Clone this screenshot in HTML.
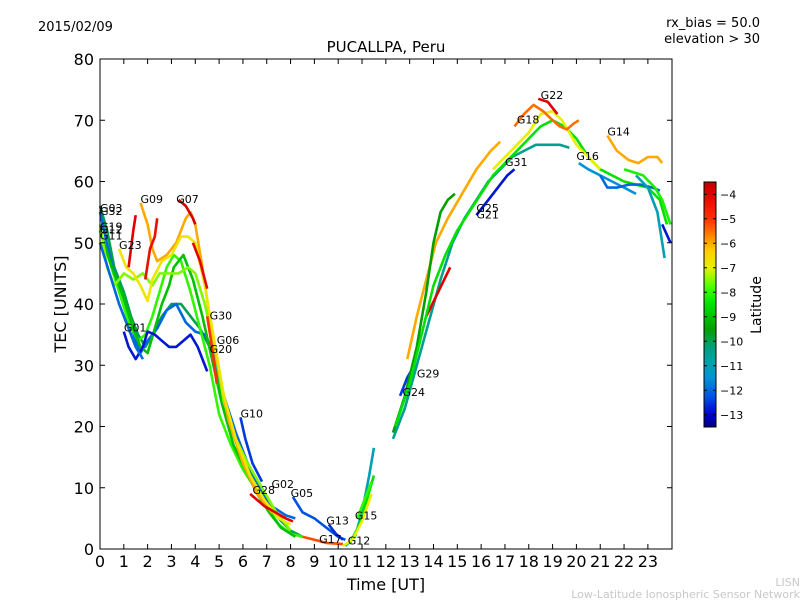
<!DOCTYPE html>
<html><head><meta charset="utf-8"><style>
body{margin:0;background:#fff}
svg text{font-family:"DejaVu Sans","Liberation Sans",sans-serif}
</style></head><body>
<svg id="c" width="800" height="600" xmlns="http://www.w3.org/2000/svg">
<rect width="800" height="600" fill="#fff"/>
<text x="38" y="31" font-size="13">2015/02/09</text>
<text x="760" y="27" font-size="13" text-anchor="end">rx_bias = 50.0</text>
<text x="760" y="43" font-size="13" text-anchor="end">elevation &gt; 30</text>
<text x="386" y="52" font-size="15" text-anchor="middle">PUCALLPA, Peru</text>
<g id="plot"></g>
<rect x="100" y="59" width="572" height="490" fill="none" stroke="#000" stroke-width="1"/>
<g id="axes"></g>
<text x="386" y="590" font-size="16" text-anchor="middle">Time [UT]</text>
<text transform="translate(66,304) rotate(-90)" font-size="16" text-anchor="middle">TEC [UNITS]</text>
<defs><linearGradient id="jet" x1="0" y1="1" x2="0" y2="0"></linearGradient></defs>
<rect x="704" y="182" width="12" height="245" fill="url(#jet)" stroke="#000" stroke-width="1"/>
<g id="cbar"></g>
<text transform="translate(761,305) rotate(-90)" font-size="14" text-anchor="middle">Latitude</text>
<text x="800" y="586" font-size="11" fill="#c8c8c8" text-anchor="end">LISN</text>
<text x="800" y="598" font-size="11" fill="#c8c8c8" text-anchor="end">Low-Latitude Ionospheric Sensor Network</text>
</svg>
<script>
const xTicks=[0,1,2,3,4,5,6,7,8,9,10,11,12,13,14,15,16,17,18,19,20,21,22,23];
const yTicks=[0,10,20,30,40,50,60,70,80];
const cbTicks=[-4,-5,-6,-7,-8,-9,-10,-11,-12,-13];
const seriesLat=[-10,-12,-8,-9,-7.5,-12.8,-12,-6,-6.8,-4,-4.3,-3.8,-4.1,-5,-4,-12.5,-12.3,-5.2,-12.6,-11,-8.5,-7,-8,-12.5,-6,-10.5,-9.5,-4,-8.5,-7,-4,-5.5,-12.8,-11.5,-12,-6,-11,-12.8,-8.2];
const seriesData=[
[[0,56],[0.3,52],[0.6,46],[1.0,42],[1.3,38],[1.6,35],[1.9,33],[2.2,35],[2.6,38],[3.0,40],[3.4,40],[3.8,38],[4.2,36],[4.6,33],[5.0,27],[5.5,20],[6.0,15],[6.5,11],[7.0,8],[7.5,5],[8.0,3],[8.5,2]],
[[0,55],[0.4,48],[0.8,42],[1.2,38],[1.5,34],[1.7,32],[2.0,34],[2.4,36],[2.8,39],[3.2,40],[3.6,37],[4.0,35.5],[4.4,35],[4.8,32],[5.2,25],[5.7,19],[6.2,14],[6.7,10],[7.2,7],[7.8,5.5],[8.2,5]],
[[0,52],[0.4,47],[0.8,42],[1.2,37],[1.6,34],[1.9,35],[2.2,38],[2.5,42],[2.8,46],[3.1,48],[3.4,47],[3.8,42],[4.2,36],[4.6,30],[5.0,22],[5.5,17],[6.0,13],[6.5,10],[7.0,7],[7.5,4],[8.0,2.5],[8.5,2]],
[[0,52],[0.5,46],[1.0,41],[1.4,36],[1.7,33],[2.0,32],[2.3,36],[2.6,40],[2.9,43],[3.1,46],[3.5,48],[3.9,44],[4.3,38],[4.7,31],[5.1,24],[5.6,17],[6.1,13],[6.6,9],[7.1,6],[7.6,3.5],[8.2,2]],
[[0,53],[0.3,46],[0.6,43],[1.0,45],[1.4,44],[1.8,45],[2.2,43],[2.5,45],[2.9,45],[3.3,45],[3.7,46],[4.0,45],[4.4,40],[4.8,33],[5.2,24],[5.7,18],[6.2,14],[6.8,10],[7.4,6],[8.0,3]],
[[1.0,35.5],[1.2,33],[1.5,31],[1.8,33],[2.0,35.5],[2.3,35],[2.6,34],[2.9,33],[3.2,33],[3.5,34],[3.8,35],[4.1,33],[4.5,29]],
[[0,50],[0.4,45],[0.8,40],[1.2,36],[1.5,33],[1.8,31]],
[[1.7,56.5],[2.0,53],[2.2,49],[2.4,47],[2.8,48],[3.2,50],[3.6,54],[3.8,55],[4.0,53],[4.3,46],[4.6,38],[5.0,29],[5.4,21],[6.0,14],[6.6,9],[7.2,6],[7.8,5]],
[[0.8,49],[1.1,46],[1.4,45],[1.7,43],[2.0,40.5],[2.2,44],[2.6,47],[3.0,48],[3.4,51],[3.7,51],[4.0,50],[4.4,43],[4.8,34],[5.2,25],[5.7,18],[6.3,12],[6.9,8],[7.5,5],[8.0,4]],
[[1.2,46],[1.4,52],[1.5,54.5]],
[[1.9,44],[2.1,49],[2.3,51],[2.4,54]],
[[3.3,57],[3.6,56],[3.9,54],[4.0,53]],
[[3.9,50],[4.2,47],[4.5,42.5]],
[[4.5,38],[4.7,33],[4.9,27]],
[[6.3,9],[6.6,8],[6.9,7],[7.8,5],[8.1,4.5]],
[[5.9,21.5],[6.1,18],[6.4,14],[6.8,11]],
[[8.1,8.5],[8.5,6],[9.0,5],[9.5,3.5],[10,2],[10.3,1.5]],
[[8.5,2],[9.0,1.5],[9.5,1],[10.2,0.8]],
[[9.6,4],[9.9,2.5],[10.2,1.5]],
[[10.3,0.5],[10.7,2],[11.0,6],[11.3,12],[11.5,16.5]],
[[10.5,1],[10.9,4],[11.2,8],[11.5,12]],
[[10.2,0.5],[10.6,1.5],[11.0,4.5],[11.4,9]],
[[10.8,5],[11.1,8],[11.4,11]],
[[12.6,25],[12.9,28],[13.2,30]],
[[12.9,31],[13.3,38],[13.7,44],[14.1,50],[14.6,54],[15.2,58],[15.8,62],[16.4,65],[16.8,66.5]],
[[12.3,18],[12.8,23],[13.3,30],[13.8,37],[14.3,44],[14.8,50],[15.3,54],[15.8,57],[16.3,60],[16.8,62],[17.3,64],[17.8,65],[18.3,66],[18.8,66],[19.3,66],[19.7,65.5]],
[[12.3,19],[12.8,25],[13.3,33],[13.7,42],[14.0,50],[14.3,55],[14.6,57],[14.9,58]],
[[13.7,38],[14.2,42],[14.7,46]],
[[12.4,20],[13.0,27],[13.5,35],[14,43],[14.5,48],[15,52],[15.5,55],[16,58],[16.5,61],[17,63],[17.5,65],[18,67],[18.5,69],[19,70],[19.5,69],[20,67],[20.5,64],[21,62],[21.5,61],[22,60],[22.5,59.5],[23,59],[23.5,57],[23.8,53]],
[[16.5,62],[17,64],[17.5,66],[18,68],[18.5,71],[19,71.5],[19.4,70],[19.7,68],[20,66],[20.5,64],[21,62]],
[[18.4,73.5],[18.8,73],[19.2,71]],
[[17.4,69],[17.8,71],[18.2,72.5],[18.6,71.5],[19.0,70],[19.3,69],[19.6,68.5],[19.9,69.5],[20.1,70]],
[[15.8,54.5],[16.3,57],[16.8,59.5],[17.1,61],[17.4,62]],
[[20.1,63],[20.5,62],[21,61],[21.5,60],[22,59],[22.5,58]],
[[21.0,61],[21.3,59],[21.7,59],[22.2,59.5],[22.7,59.5],[23.2,59],[23.5,58.5]],
[[21.3,67.5],[21.7,65],[22.2,63.5],[22.6,63],[23.0,64],[23.4,64],[23.6,63]],
[[22.5,61],[23,59],[23.4,55],[23.7,47.5]],
[[23.6,53],[23.95,50]],
[[22,62],[22.8,61],[23.3,59],[23.6,57],[23.95,53]]
];
const labelNames=["G03","G32","G19","G12","G11","G23","G01","G09","G07","G30","G06","G20","G10","G28","G02","G05","G13","G17","G15","G12","G29","G24","G25","G21","G31","G18","G22","G14","G16"];
const labelT=[0,0,0,0,0,0.8,1.0,1.7,3.2,4.6,4.9,4.6,5.9,6.4,7.2,8.0,9.5,9.2,10.7,10.4,13.3,12.7,15.8,15.8,17.0,17.5,18.5,21.3,20.0];
const labelV=[55,54.5,52,51.5,50.5,49,35.5,56.5,56.5,37.5,33.5,32,21.5,9,10,8.5,4,1,4.8,0.7,28,25,55,54,62.5,69.5,73.5,67.5,63.5];
const X0=100,X1=671.7,Y0=549,Y1=59;
const xs=t=>X0+(X1-X0)*t/24, ys=v=>Y0-(Y0-Y1)*v/80;
const cb=l=>427-245*(l+13.5)/10;
const cmapL=[-13.5,-13,-12.3,-11.5,-11,-10.3,-9.5,-8.5,-7.8,-7,-6.3,-5.8,-5,-4,-3.5];
const cmapC=[[0,0,130],[0,0,200],[0,80,225],[0,145,215],[0,160,180],[0,160,130],[0,160,0],[0,225,0],[70,255,0],[230,240,0],[255,205,0],[255,145,0],[255,50,0],[225,0,0],[190,0,0]];
function jet(l){l=Math.max(-13.5,Math.min(-3.5,l));let i=0;while(i<cmapL.length-2&&l>cmapL[i+1])i++;
 const f=(l-cmapL[i])/(cmapL[i+1]-cmapL[i]);const a=cmapC[i],b=cmapC[i+1];
 return `rgb(${Math.round(a[0]+(b[0]-a[0])*f)},${Math.round(a[1]+(b[1]-a[1])*f)},${Math.round(a[2]+(b[2]-a[2])*f)})`;}
const NS="http://www.w3.org/2000/svg";
const grad=document.getElementById('jet');
cmapL.forEach((l,i)=>{const s=document.createElementNS(NS,'stop');s.setAttribute('offset',(l+13.5)/10);s.setAttribute('stop-color',jet(l));grad.appendChild(s);});
const plot=document.getElementById('plot'),axes=document.getElementById('axes'),cbar=document.getElementById('cbar');
seriesData.forEach((s,i)=>{const p=document.createElementNS(NS,'polyline');
 p.setAttribute('points',s.map(d=>xs(d[0]).toFixed(1)+','+ys(d[1]).toFixed(1)).join(' '));
 p.setAttribute('fill','none');p.setAttribute('stroke',jet(seriesLat[i]));p.setAttribute('stroke-width','2.6');p.setAttribute('stroke-linejoin','round');
 
 
 plot.appendChild(p);});
labelNames.forEach((n,i)=>{const t=document.createElementNS(NS,'text');
 t.setAttribute('x',xs(labelT[i]));t.setAttribute('y',ys(labelV[i]));t.setAttribute('font-size','11');t.textContent=n;
 
 
 plot.appendChild(t);});
xTicks.forEach(v=>{const x=xs(v);
 const l=document.createElementNS(NS,'path');l.setAttribute('d',`M${x},549v-5M${x},59v5`);l.setAttribute('stroke','#000');
 
 
 axes.appendChild(l);
 const t=document.createElementNS(NS,'text');t.setAttribute('x',x);t.setAttribute('y',567);t.setAttribute('font-size','16');t.setAttribute('text-anchor','middle');t.textContent=v;
 
 
 axes.appendChild(t);});
yTicks.forEach(v=>{const y=ys(v);
 const l=document.createElementNS(NS,'path');l.setAttribute('d',`M100,${y}h5M672,${y}h-5`);l.setAttribute('stroke','#000');
 
 
 axes.appendChild(l);
 const t=document.createElementNS(NS,'text');t.setAttribute('x',94);t.setAttribute('y',y+6);t.setAttribute('font-size','16');t.setAttribute('text-anchor','end');t.textContent=v;
 
 
 axes.appendChild(t);});
cbTicks.forEach(v=>{const y=cb(v);
 const l=document.createElementNS(NS,'path');l.setAttribute('d',`M704,${y}h3M716,${y}h-3`);l.setAttribute('stroke','#000');
 
 
 cbar.appendChild(l);
 const t=document.createElementNS(NS,'text');t.setAttribute('x',720);t.setAttribute('y',y+4);t.setAttribute('font-size','11');t.textContent='\u2212'+Math.abs(v);
 
 
 cbar.appendChild(t);});
</script>
</body></html>
